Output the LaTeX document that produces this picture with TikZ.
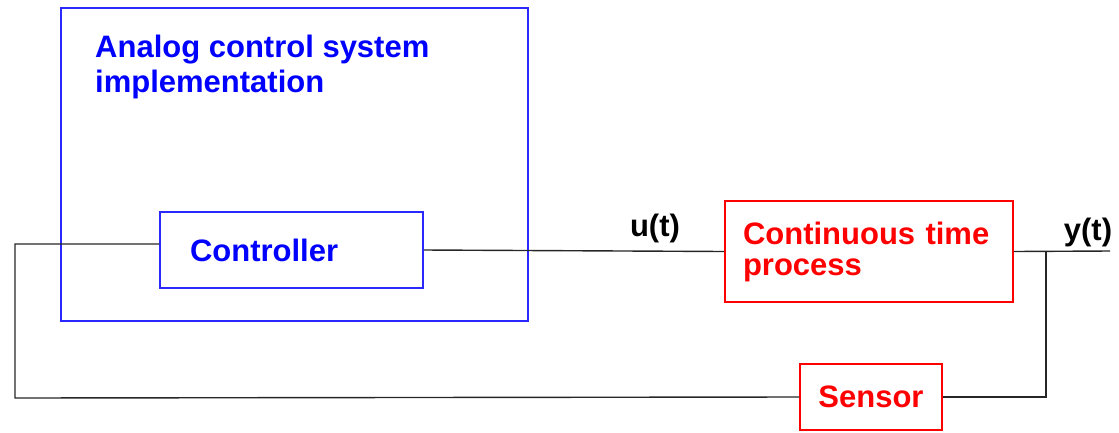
\documentclass[tikz,border=0pt]{standalone}
\usepackage{fontspec}
\setmainfont{Liberation Sans}
\definecolor{boxblue}{RGB}{40,40,255}
\begin{document}
\begin{tikzpicture}[x=1pt,y=1pt,
  txt/.style={font=\fontsize{31}{31}\selectfont\bfseries},
  bluebox/.style={draw=boxblue,line width=1.5pt,rectangle,inner sep=0pt},
  redbox/.style={draw=red,line width=1.3pt,rectangle,inner sep=0pt},
  wire/.style={draw=black!85,line width=1.4pt}]
\useasboundingbox (0,0) rectangle (1119,-432);
% outer analog implementation box
\node[bluebox,minimum width=467pt,minimum height=313pt] (outer) at (294.5,-164.5) {};
\node[txt,text=blue,anchor=base west,align=left,inner sep=0pt,font=\fontsize{31}{35}\selectfont\bfseries] (title) at (95,-92) {Analog control system\\implementation};
% controller
\node[bluebox,minimum width=263pt,minimum height=76pt,text width=203pt,align=left,inner xsep=30pt,txt,text=blue] (ctrl) at (291.5,-250) {Controller};
% process
\node[redbox,minimum width=288pt,minimum height=101pt,text width=252pt,align=left,inner xsep=18pt,txt,text=red] (proc) at (869,-251.5) {Continuous time\\process};
% sensor
\node[redbox,minimum width=142pt,minimum height=66pt,txt,text=red] (sens) at (871,-397) {Sensor};
% signal labels
\node[txt,anchor=base] (ulab) at (655,-236) {u(t)};
\node[txt,anchor=base] (ylab) at (1088,-240) {y(t)};
% coordinates
\coordinate (tap) at (1046,-251);
\coordinate (yend) at (1110,-251);
\coordinate (fbL) at (15,-398);
% wires
\draw[wire] (ctrl.east) -- (proc.west);
\draw[wire] (proc.east) -- (yend);
\draw[wire] (tap) |- (sens.east);
\draw[wire] (sens.west) -- (fbL) |- ([yshift=6pt]ctrl.west);
\end{tikzpicture}
\end{document}
